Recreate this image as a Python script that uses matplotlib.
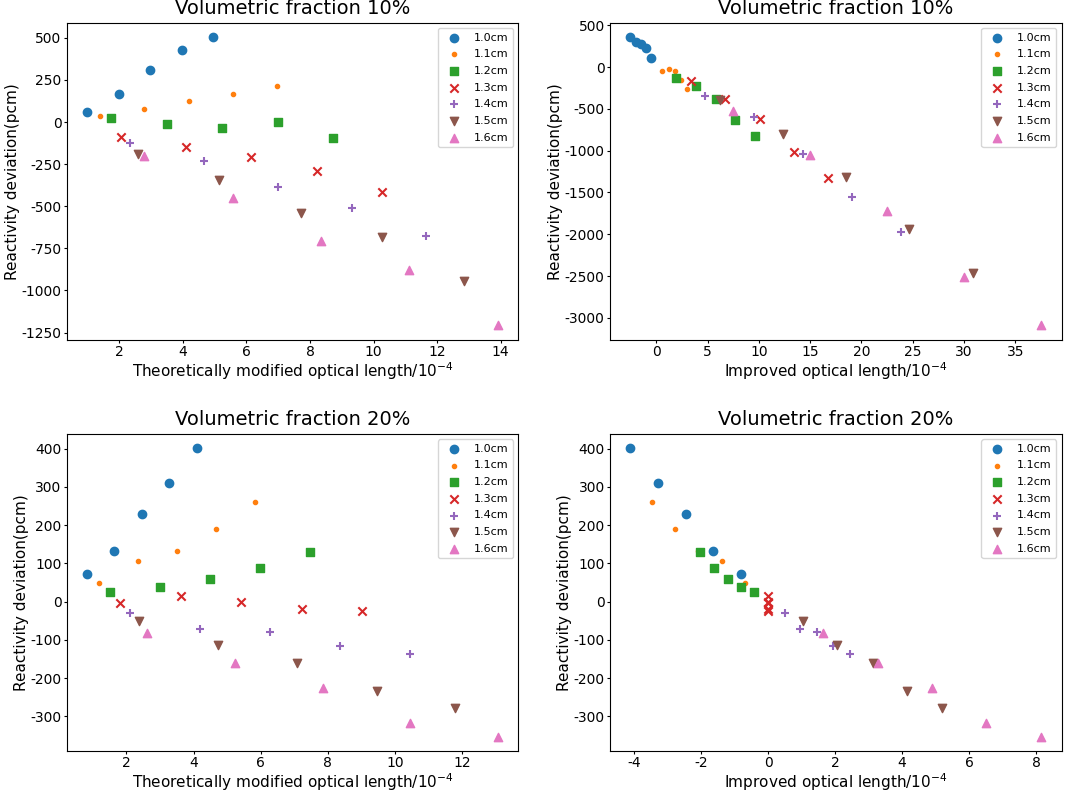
#plotting reactivity deviation vs optical length
import numpy as np
import matplotlib
matplotlib.use('Agg')
import matplotlib.pyplot as plt

plt.rcParams['axes.unicode_minus'] = False

labels = ['1.0cm', '1.1cm', '1.2cm', '1.3cm', '1.4cm', '1.5cm', '1.6cm']
markers = ['o', '.', 's', 'x', '+', 'v', '^']

#volumetric fraction 10%, theoretically modified optical length
x10_theo = [
    [0.99, 1.98, 2.97, 3.96, 4.94],
    [1.40, 2.78, 4.18, 5.57, 6.96],
    [1.75, 3.49, 5.23, 6.98, 8.72],
    [2.05, 4.11, 6.16, 8.21, 10.26],
    [2.33, 4.67, 6.99, 9.31, 11.64],
    [2.58, 5.15, 7.71, 10.27, 12.85],
    [2.79, 5.57, 8.36, 11.13, 13.91],
]
y10_theo = [
    [62, 169, 310, 425, 504],
    [34, 77, 123, 169, 212],
    [22, -12, -38, -2, -93],
    [-91, -147, -210, -290, -415],
    [-123, -232, -383, -508, -675],
    [-190, -347, -538, -684, -944],
    [-204, -452, -704, -879, -1208],
]

#volumetric fraction 10%, improved optical length
x10_impr = [
    [-2.53, -2.01, -1.49, -1.00, -0.52],
    [0.58, 1.20, 1.78, 2.37, 2.95],
    [1.91, 3.86, 5.77, 7.71, 9.62],
    [3.34, 6.68, 10.08, 13.42, 16.75],
    [4.76, 9.49, 14.32, 19.12, 23.88],
    [6.16, 12.31, 18.47, 24.66, 30.85],
    [7.49, 14.97, 22.49, 30.01, 37.52],
]
y10_impr = [
    [360, 296, 276, 228, 108],
    [-44, -20, -48, -152, -260],
    [-132, -224, -380, -628, -824],
    [-164, -376, -624, -1020, -1332],
    [-340, -600, -1036, -1548, -1972],
    [-396, -796, -1312, -1932, -2460],
    [-528, -1052, -1720, -2516, -3092],
]

#volumetric fraction 20%, theoretically modified optical length
x20_theo = [
    [0.83, 1.64, 2.46, 3.27, 4.09],
    [1.18, 2.34, 3.50, 4.67, 5.84],
    [1.50, 2.99, 4.49, 5.98, 7.48],
    [1.81, 3.61, 5.42, 7.22, 9.01],
    [2.10, 4.19, 6.28, 8.37, 10.46],
    [2.37, 4.73, 7.09, 9.45, 11.80],
    [2.62, 5.23, 7.84, 10.46, 13.06],
]
y20_theo = [
    [73, 133, 229, 309, 401],
    [49, 107, 131, 191, 260],
    [24, 37, 58, 87, 129],
    [-5, 14, -2, -19, -24],
    [-29, -71, -80, -117, -136],
    [-51, -114, -161, -234, -278],
    [-83, -161, -226, -317, -353],
]

#volumetric fraction 20%, improved optical length
x20_impr = [
    [-4.11, -3.29, -2.46, -1.65, -0.82],
    [-3.48, -2.78, -2.08, -1.39, -0.70],
    [-2.03, -1.62, -1.21, -0.81, -0.41],
    [0.0, 0.0, 0.0, 0.0, 0.0],
    [0.49, 0.96, 1.46, 1.95, 2.44],
    [1.04, 2.07, 3.12, 4.15, 5.19],
    [1.63, 3.27, 4.90, 6.52, 8.15],
]
y20_impr = [
    [401, 309, 229, 133, 73],
    [260, 191, 131, 107, 49],
    [129, 87, 58, 37, 24],
    [14, -2, -5, -19, -24],
    [-29, -71, -80, -117, -136],
    [-51, -114, -161, -234, -278],
    [-83, -161, -226, -317, -353],
]

fig, axes = plt.subplots(2, 2, figsize=(10.65, 7.94), dpi=100)
plt.subplots_adjust(left=0.0626, right=0.9968, bottom=0.0542, top=0.9714,
                    wspace=0.203, hspace=0.296)

panels = [
    (axes[0, 0], x10_theo, y10_theo, 'Volumetric fraction 10%', r'Theoretically modified optical length/$10^{-4}$'),
    (axes[0, 1], x10_impr, y10_impr, 'Volumetric fraction 10%', r'Improved optical length/$10^{-4}$'),
    (axes[1, 0], x20_theo, y20_theo, 'Volumetric fraction 20%', r'Theoretically modified optical length/$10^{-4}$'),
    (axes[1, 1], x20_impr, y20_impr, 'Volumetric fraction 20%', r'Improved optical length/$10^{-4}$'),
]

for ax, xs, ys, title, xlabel in panels:
    for i in range(len(labels)):
        ax.scatter(xs[i], ys[i], marker=markers[i], color='C%d' % i, label=labels[i])
    ax.set_title(title, fontsize=14)
    ax.set_xlabel(xlabel, fontsize=11, labelpad=1)
    ax.set_ylabel('Reactivity deviation(pcm)', fontsize=11, labelpad=1)
    ax.tick_params(length=2.5, pad=1.3)
    ax.legend(fontsize=8, loc='upper right', labelspacing=0.6)

plt.savefig('out.png')
